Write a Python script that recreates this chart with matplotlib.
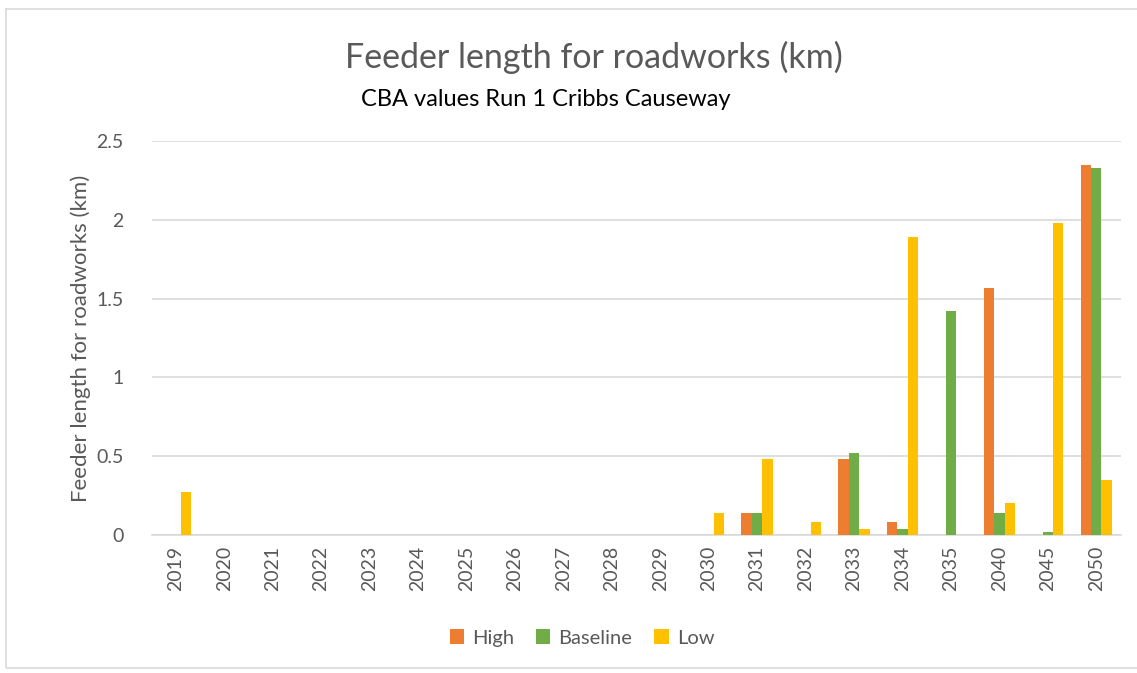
import matplotlib
matplotlib.use("Agg")
import matplotlib.pyplot as plt
import numpy as np
from matplotlib.patches import Rectangle

years = ["2019", "2020", "2021", "2022", "2023", "2024", "2025", "2026", "2027",
         "2028", "2029", "2030", "2031", "2032", "2033", "2034", "2035", "2040",
         "2045", "2050"]
high = [0, 0, 0, 0, 0, 0, 0, 0, 0, 0, 0, 0, 0.14, 0, 0.48, 0.08, 0, 1.57, 0, 2.35]
baseline = [0, 0, 0, 0, 0, 0, 0, 0, 0, 0, 0, 0, 0.14, 0, 0.52, 0.04, 1.42, 0.14, 0.02, 2.33]
low = [0.27, 0, 0, 0, 0, 0, 0, 0, 0, 0, 0, 0.14, 0.48, 0.08, 0.04, 1.89, 0, 0.20, 1.98, 0.35]
series_names = ["High", "Baseline", "Low"]
colors = ["#ED7D31", "#70AD47", "#FFC000"]
yticks = [0, 0.5, 1, 1.5, 2, 2.5]
ytick_labels = ["0", "0.5", "1", "1.5", "2", "2.5"]

W, H = 1137, 673
fig = plt.figure(figsize=(W / 100, H / 100), dpi=100)
plt.rcParams['font.family'] = ['Lato', 'DejaVu Sans']

# outer chart border
fig.patches.append(Rectangle((6 / W, 1 - 668 / H), (W + 20) / W, (668 - 9) / H,
                             transform=fig.transFigure, fill=False,
                             edgecolor="#D9D9D9", linewidth=1.2))

left, right, top, bottom = 151.5, 1120.5, 141, 535
ax = fig.add_axes([left / W, 1 - bottom / H, (right - left) / W, (bottom - top) / H])

n = len(years)
x = np.arange(n)
bw = 0.215
for i, (vals, name, c) in enumerate(zip([high, baseline, low], series_names, colors)):
    ax.bar(x + (i - 1) * bw, vals, width=bw, color=c, label=name, zorder=3)

ax.set_xlim(-0.5, n - 0.5)
ax.set_ylim(0, 2.5)
ax.set_yticks(yticks)
ax.set_yticklabels(ytick_labels)
ax.set_xticks(x)
ax.set_xticklabels(years, rotation=90)
ax.grid(axis="y", color="#D9D9D9", linewidth=1.2, zorder=0)
for s in ["top", "right", "left"]:
    ax.spines[s].set_visible(False)
ax.spines["bottom"].set_color("#D9D9D9")
ax.spines["bottom"].set_linewidth(1.2)
ax.tick_params(axis="both", length=0, colors="#595959", labelsize=14)
ax.tick_params(axis="y", pad=20)
ax.tick_params(axis="x", pad=8)
ax.set_ylabel("Feeder length for roadworks (km)", color="#595959", fontsize=16, labelpad=4)

fig.text(594 / W, 1 - 57 / H, "Feeder length for roadworks (km)", ha="center", va="center",
         fontsize=24.5, color="#595959")
fig.text(546 / W, 1 - 100 / H, "CBA values Run 1 Cribbs Causeway", ha="center", va="center",
         fontsize=17, color="#000000")

leg = fig.legend(loc="center", bbox_to_anchor=(582 / W, 1 - 638 / H), ncol=3, frameon=False,
                 fontsize=14.5, handlelength=0.7, handleheight=0.7, handletextpad=0.4,
                 columnspacing=1.1)
for t in leg.get_texts():
    t.set_color("#595959")

fig.savefig("out.png", dpi=100)
